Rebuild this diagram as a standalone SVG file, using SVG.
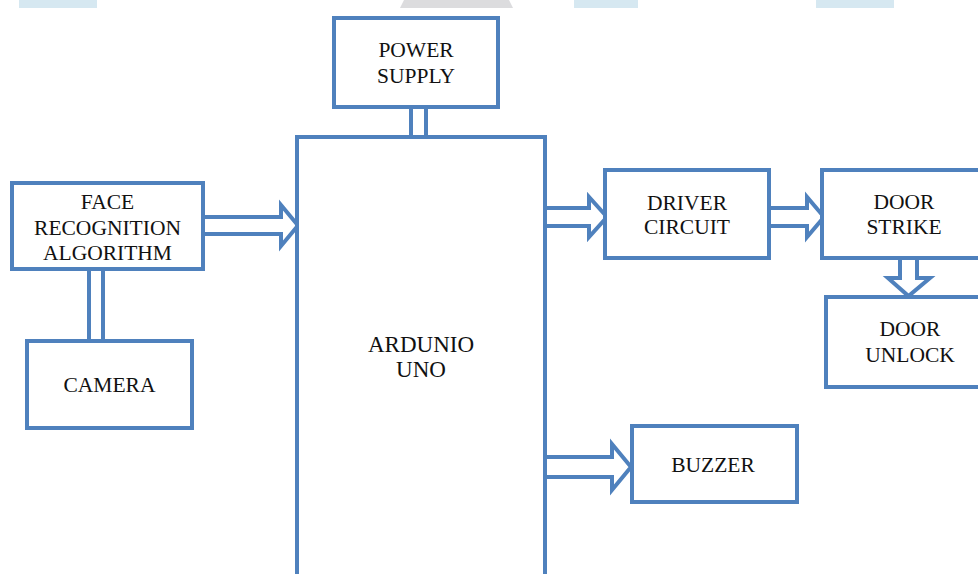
<svg xmlns="http://www.w3.org/2000/svg" width="978" height="574" viewBox="0 0 978 574">
<style>
.box{fill:#fff;stroke:#4F81BD;stroke-width:4}
.arr{fill:#fff;stroke:#4F81BD;stroke-width:4;stroke-linejoin:miter}
.ln{stroke:#4F81BD;stroke-width:4;fill:none}
text{font-family:'Liberation Serif','Times New Roman',Times,serif;font-size:21.5px;fill:#111;text-anchor:middle}
.big{font-size:23px}
</style>
<rect width="978" height="574" fill="#fff"/>
<g id="page-marks">
<rect x="19" y="0" width="78" height="8" fill="#D6E8F1"/>
<polygon points="404,0 509,0 513,8 400,8" fill="#DCDCDE"/>
<rect x="574" y="0" width="64" height="8" fill="#D6E8F1"/>
<rect x="816" y="0" width="78" height="8" fill="#D6E8F1"/>
</g>
<g id="connectors">
<line class="ln" x1="411" y1="107" x2="411" y2="137"/>
<line class="ln" x1="426" y1="107" x2="426" y2="137"/>
<line class="ln" x1="89" y1="269" x2="89" y2="341"/>
<line class="ln" x1="103" y1="269" x2="103" y2="341"/>
<polygon class="arr" points="203,217 281,217 281,205 298,225.5 281,246 281,234 203,234"/>
<polygon class="arr" points="545,208 589,208 589,197 607,217 589,237 589,226 545,226"/>
<polygon class="arr" points="769,208 807,208 807,197 824,217 807,237 807,226 769,226"/>
<polygon class="arr" points="545,457 612,457 612,444 631,467 612,490 612,477 545,477"/>
<polygon class="arr" points="900,258 900,278 888,278 908.5,296 930,278 917,278 917,258"/>
</g>
<g id="power-supply">
<rect class="box" x="334" y="18" width="164" height="89"/>
<text x="416" y="57">POWER</text>
<text x="416" y="83">SUPPLY</text>
</g>
<g id="arduino-uno">
<rect class="box" x="297" y="137" width="248" height="460"/>
<text class="big" x="421" y="352">ARDUNIO</text>
<text class="big" x="421" y="377">UNO</text>
</g>
<g id="face-recognition">
<rect class="box" x="12" y="183" width="191" height="86"/>
<text x="107.5" y="209">FACE</text>
<text x="107.5" y="235">RECOGNITION</text>
<text x="107.5" y="260">ALGORITHM</text>
</g>
<g id="camera">
<rect class="box" x="27" y="341" width="165" height="87"/>
<text x="109.5" y="392">CAMERA</text>
</g>
<g id="driver-circuit">
<rect class="box" x="605" y="170" width="164" height="88"/>
<text x="687" y="210">DRIVER</text>
<text x="687" y="234">CIRCUIT</text>
</g>
<g id="door-strike">
<rect class="box" x="822" y="170" width="170" height="88"/>
<text x="904" y="209">DOOR</text>
<text x="904" y="234">STRIKE</text>
</g>
<g id="door-unlock">
<rect class="box" x="826" y="297" width="170" height="90"/>
<text x="910" y="336">DOOR</text>
<text x="910" y="362">UNLOCK</text>
</g>
<g id="buzzer">
<rect class="box" x="632" y="426" width="165" height="76"/>
<text x="713" y="472">BUZZER</text>
</g>
</svg>
